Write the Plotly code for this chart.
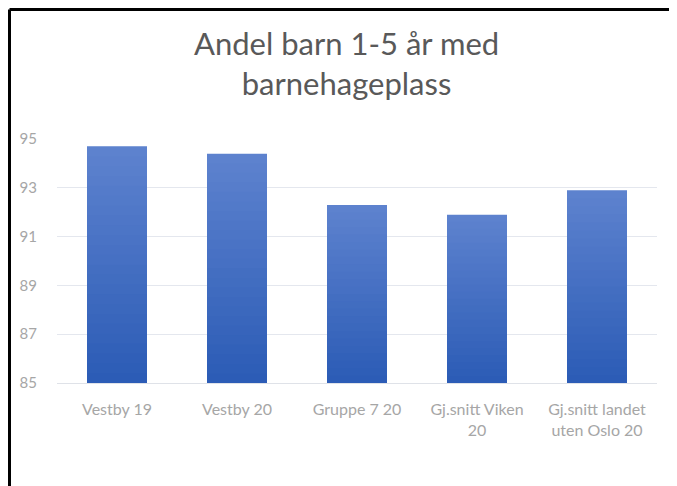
import plotly.graph_objects as go

# chart data
categories = ['Vestby 19', 'Vestby 20', 'Gruppe 7 20',
              'Gj.snitt Viken<br>20', 'Gj.snitt landet<br>uten Oslo 20']
values = [94.7, 94.4, 92.3, 91.9, 92.9]
y_ticks = [85, 87, 89, 91, 93, 95]
title_text = 'Andel barn 1-5 år med<br>barnehageplass'

# colours for the vertical gradient of the bars (top -> bottom)
top_rgb = (93, 130, 206)
bottom_rgb = (44, 92, 182)
n_layers = 24
base = y_ticks[0]

# page body has an 8px margin, so the figure is a bit smaller than the window
W, H = 669, 478
L, R, T, B = 49, 20, 131, 103
pw, ph = W - L - R, H - T - B

fig = go.Figure()

# fake gradient: overlay shorter and darker copies of each bar
for k in range(n_layers):
    t = k / (n_layers - 1)
    rgb = [round(a + (b - a) * t) for a, b in zip(top_rgb, bottom_rgb)]
    frac = 1 - k / n_layers
    fig.add_trace(go.Bar(
        x=categories,
        y=[base + (v - base) * frac for v in values],
        marker=dict(color=f'rgb({rgb[0]},{rgb[1]},{rgb[2]})', line=dict(width=0)),
        width=0.5,
        hoverinfo='skip' if k else None,
        showlegend=False,
    ))

fig.update_layout(
    width=W, height=H,
    barmode='overlay',
    paper_bgcolor='white',
    plot_bgcolor='white',
    margin=dict(l=L, r=R, t=T, b=B),
    font=dict(family='Lato', color='#a6a6a6', size=15),
    xaxis=dict(
        showgrid=False, showline=True, linecolor='#dfe2e8', linewidth=1,
        ticks='', ticklabelstandoff=12,
        tickfont=dict(size=16, color='#a6a6a6'),
    ),
    yaxis=dict(
        range=[85, 95], tickvals=y_ticks,
        showgrid=True, gridcolor='#e4e7ee', gridwidth=1,
        zeroline=False, showline=False, ticks='',
        ticklabelstandoff=19,
        tickfont=dict(size=15, color='#a6a6a6'),
    ),
    annotations=[
        dict(text=title_text, showarrow=False,
             xref='paper', yref='paper',
             x=(338 - L) / pw, y=1 + (T - 14) / ph,
             xanchor='center', yanchor='top',
             font=dict(family='Lato', size=31, color='#595959')),
    ],
    shapes=[
        # black frame lines at top and left of the picture
        dict(type='line', xref='paper', yref='paper',
             x0=(1.5 - L) / pw, x1=1 + R / pw,
             y0=1 + (T - 1.5) / ph, y1=1 + (T - 1.5) / ph,
             line=dict(color='black', width=3)),
        dict(type='line', xref='paper', yref='paper',
             x0=(1.5 - L) / pw, x1=(1.5 - L) / pw,
             y0=-B / ph, y1=1 + (T - 1.5) / ph,
             line=dict(color='black', width=3)),
    ],
)

fig.write_html("out.html")
